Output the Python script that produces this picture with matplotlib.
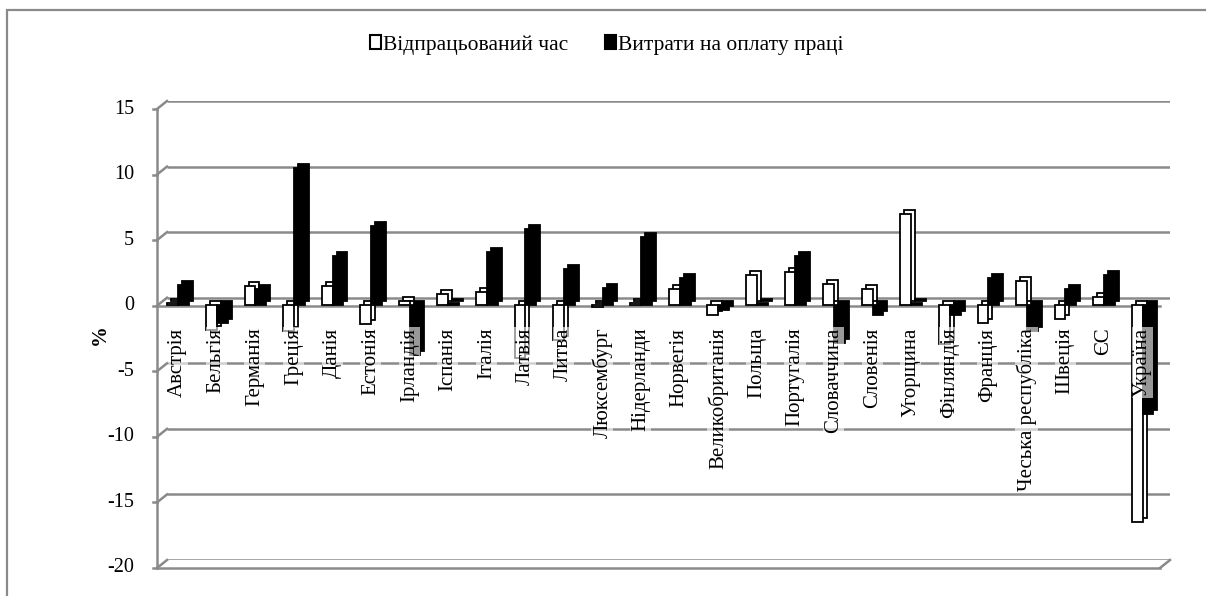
import matplotlib
matplotlib.use('Agg')
import matplotlib.pyplot as plt
from matplotlib.lines import Line2D
from matplotlib.patches import Patch, Rectangle
from matplotlib.transforms import offset_copy

plt.rcParams['font.family'] = ['Liberation Serif', 'DejaVu Serif']

categories = ['Австрія', 'Бельгія', 'Германія', 'Греція', 'Данія', 'Естонія',
              'Ірландія', 'Іспанія', 'Італія', 'Латвія', 'Литва', 'Люксембург',
              'Нідерланди', 'Норвегія', 'Великобританія', 'Польща', 'Португалія',
              'Словаччина', 'Словенія', 'Угорщина', 'Фінляндія', 'Франція',
              'Чеська республіка', 'Швеція', 'ЄС', 'Україна']
worked_time = [0.1, -1.9, 1.4, -2.0, 1.4, -1.5, 0.3, 0.8, 1.0, -4.1, -2.7, -0.2,
               0.1, 1.2, -0.8, 2.3, 2.5, 1.6, 1.2, 6.9, -3.0, -1.4, 1.8, -1.1,
               0.6, -16.6]
labour_cost = [1.5, -1.4, 1.2, 10.4, 3.7, 6.0, -3.8, 0.1, 4.0, 5.8, 2.7, 1.3,
               5.2, 2.0, -0.4, 0.1, 3.7, -2.9, -0.8, 0.1, -0.8, 2.0, -2.0, 1.2,
               2.3, -8.3]
series_names = ['Відпрацьований час', 'Витрати на оплату праці']
y_ticks = [15, 10, 5, 0, -5, -10, -15, -20]

W, H = 1206, 596
fig = plt.figure(figsize=(W / 100, H / 100), dpi=100)

# outer chart border (right and bottom edges fall outside the picture)
fig.patches.append(Rectangle((7 / W, -0.05), 1.05, 1 - 10 / H + 0.05,
                             transform=fig.transFigure, fill=False,
                             edgecolor='#8a8a8a', lw=1.6))

# axes = back wall of the 3D plot
ax = fig.add_axes([167 / W, 1 - 560 / H, (1170 - 167) / W, (560 - 101) / H])
ax.set_xlim(-0.5, len(categories) - 0.5)
ax.set_ylim(-20, 15)
ax.axis('off')

front = offset_copy(ax.transData, fig=fig, x=-10, y=-8, units='dots')
bar_front = offset_copy(ax.transData, fig=fig, x=-10, y=-7, units='dots')
bar_back = offset_copy(ax.transData, fig=fig, x=-6, y=-3, units='dots')

grid_c = '#8a8a8a'
x0, x1 = -0.5, len(categories) - 0.5


def seg(p, tp, q, tq, **kw):
    a = tp.transform(p)
    b = tq.transform(q)
    fig.add_artist(Line2D([a[0], b[0]], [a[1], b[1]], transform=None, **kw))


# back gridlines with slanted joins to the front axis
for v in y_ticks:
    ax.plot([x0, x1], [v, v], color=grid_c, lw=1.8, zorder=1, solid_capstyle='butt')
    seg((x0, v), front, (x0, v), ax.transData, color=grid_c, lw=1.8)
    # tick marks
    p = front.transform((x0, v))
    fig.add_artist(Line2D([p[0] - 4, p[0]], [p[1], p[1]], transform=None,
                          color=grid_c, lw=1.8))
    fig.text(p[0] - 23, p[1], str(v), transform=None, ha='right', va='center',
             fontsize=14.5)

# front axis, front zero line and floor
ax.plot([x0, x0], [-20, 15], color=grid_c, lw=1.8, transform=front, clip_on=False)
ax.plot([x0, x1], [0, 0], color=grid_c, lw=1.8, transform=front, clip_on=False, zorder=2)
ax.plot([x0, x1], [-20, -20], color=grid_c, lw=1.8, transform=front, clip_on=False)
seg((x1, -20), front, (x1, -20), ax.transData, color=grid_c, lw=1.8)

# 3D-looking columns: back face then front face
idx = list(range(len(categories)))
w = 0.28
wx = [i - 0.09 for i in idx]
bx = [i + 0.19 for i in idx]
for tr, z in ((bar_back, 3), (bar_front, 4)):
    ax.bar(wx, worked_time, width=w, color='white', edgecolor='black', lw=1.3,
           transform=tr, clip_on=False, zorder=z)
    ax.bar(bx, labour_cost, width=w, color='black', edgecolor='black', lw=1.3,
           transform=tr, clip_on=False, zorder=z)

# category labels just under the zero line
for i, name in enumerate(categories):
    ax.annotate(name, xy=(i, 0), xycoords=front, xytext=(1.5, -22),
                textcoords='offset pixels', rotation=90, ha='center', va='top',
                fontsize=15, zorder=6,
                bbox=dict(boxstyle='square,pad=0.05', fc='white', ec='none',
                          alpha=0.6))

fig.text(100 / W, 1 - 335 / H, '%', rotation=90, ha='center', va='center',
         fontsize=15, fontweight='bold')

handles = [Patch(facecolor='white', edgecolor='black', lw=1.5),
           Patch(facecolor='black', edgecolor='black', lw=1.5)]
fig.legend(handles, series_names, loc='center',
           bbox_to_anchor=(0.5 + 4 / W, 1 - 45 / H),
           ncol=2, frameon=False, fontsize=15.5, handlelength=0.5,
           handleheight=0.6, handletextpad=0.1, columnspacing=1.7)

fig.savefig('out.png', dpi=100)
